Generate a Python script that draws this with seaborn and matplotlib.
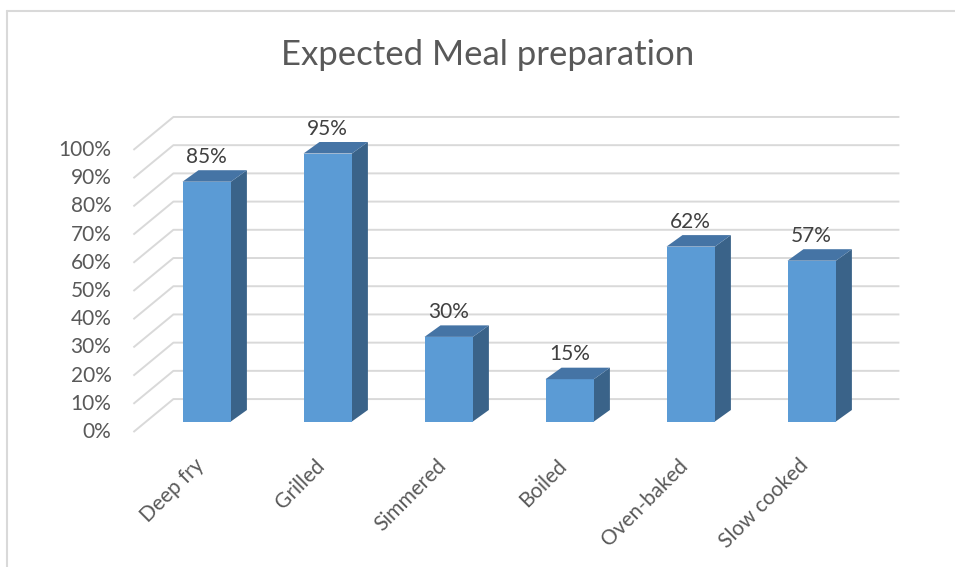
import numpy as np
import pandas as pd
import seaborn as sns
import matplotlib.pyplot as plt
from matplotlib.patches import Polygon
from matplotlib.lines import Line2D

# ---- data ----
methods = ["Deep fry", "Grilled", "Simmered", "Boiled", "Oven-baked", "Slow cooked"]
expected_pct = [85, 95, 30, 15, 62, 57]
tick_pct = [0, 10, 20, 30, 40, 50, 60, 70, 80, 90, 100]
tick_labels = [f"{t}%" for t in tick_pct]
chart_title = "Expected Meal preparation"

# ---- style ----
sns.set_theme(style="white")
plt.rcParams["font.family"] = ["Lato", "DejaVu Sans"]

FRONT = "#5B9BD5"
TOP = "#4574A5"
SIDE = "#3A6389"
GRID = "#D9D9D9"
TEXT = "#595959"
LABEL = "#404040"
FS = 15

W, H, DPI = 955, 567, 100
fig = plt.figure(figsize=(W / DPI, H / DPI), dpi=DPI)
fig.patch.set_facecolor("white")
ax = fig.add_axes([0, 0, 1, 1])

df = pd.DataFrame({"method": methods, "pct": expected_pct})
sns.barplot(data=df, x="method", y="pct", color=FRONT, saturation=1,
            width=0.4, ax=ax, zorder=3, linewidth=0)

# pixel geometry of the plane holding the column faces
X0, STEP = 206.7, 121.0   # centre of first column, column pitch (px)
Y0, UNIT = 421.5, 2.821   # baseline (px from top), px per percentage point
ax.set_xlim(-X0 / STEP, (W - X0) / STEP)
ax.set_ylim(-(H - Y0) / UNIT, Y0 / UNIT)
ax.set_axis_off()


def off(dx, dy):
    """pixel offset (dy up) -> data offset"""
    return dx / STEP, dy / UNIT


# oblique depth of the chart box, and where the column faces sit in it
DEPTH = (40.0, 33.0)
F0 = 0.32
fx, fy = off(-F0 * DEPTH[0], -F0 * DEPTH[1])          # front edge of floor
bx, by = off((1 - F0) * DEPTH[0], (1 - F0) * DEPTH[1])  # back wall
n = len(methods)
left, right = -0.5, n - 0.5

# gridlines: along the left wall then across the back wall
for t, lab in zip(tick_pct, tick_labels):
    ax.plot([left + fx, left + bx, right + bx], [t + fy, t + by, t + by],
            color=GRID, lw=1.4, zorder=1, solid_capstyle="butt")
    lx, _ = off(-22, 0)
    ax.text(left + fx + lx, t + fy, lab, ha="right", va="center",
            fontsize=FS, color=TEXT)

# 3-D faces of each column, built on the seaborn bars
cdx, cdy = off(16, 11.5)
for bar, v in zip(ax.patches, expected_pct):
    x0 = bar.get_x()
    x1 = x0 + bar.get_width()
    h = bar.get_height()
    side = Polygon([(x1, 0), (x1 + cdx, cdy), (x1 + cdx, h + cdy), (x1, h)],
                   closed=True, facecolor=SIDE, edgecolor="none", zorder=2)
    top = Polygon([(x0, h), (x1, h), (x1 + cdx, h + cdy), (x0 + cdx, h + cdy)],
                  closed=True, facecolor=TOP, edgecolor="none", zorder=4)
    ax.add_patch(side)
    ax.add_patch(top)
    _, ly = off(0, 25)
    ax.text((x0 + x1) / 2, h + ly, f"{v}%", ha="center", va="center",
            fontsize=FS, color=LABEL, zorder=5)

# category labels, rotated under the floor
tx, ty = off(-6, -41)
for i, m in enumerate(methods):
    ax.text(i + tx, ty, m, rotation=45, ha="right", va="center",
            rotation_mode="anchor", fontsize=FS, color=TEXT)

fig.text(487.5 / W, 1 - 65 / H, chart_title, ha="center", va="baseline",
         fontsize=25, color=TEXT)

# chart frame (top and left edges)
fig.add_artist(Line2D([7 / W, 1], [1 - 11 / H, 1 - 11 / H],
                      transform=fig.transFigure, color=GRID, lw=1.5))
fig.add_artist(Line2D([7 / W, 7 / W], [0, 1 - 11 / H],
                      transform=fig.transFigure, color=GRID, lw=1.5))

fig.savefig("out.png", dpi=DPI, facecolor="white")
